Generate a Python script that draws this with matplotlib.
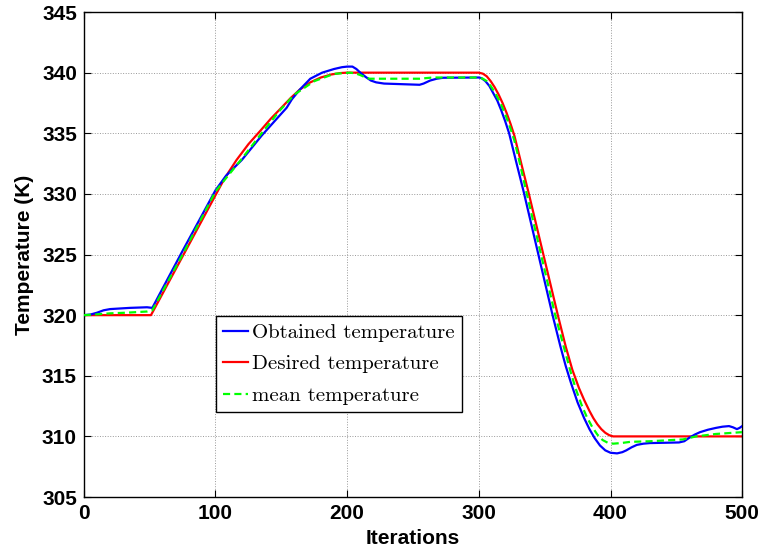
import matplotlib
matplotlib.use("Agg")
import matplotlib.pyplot as plt

# Desired temperature (red)
des_x = [0, 51, 105, 110, 116, 125, 134, 142, 150, 157, 164, 172, 180, 188, 195, 200, 300,
         303, 306, 309, 312, 315, 318, 321, 324, 327, 332, 338, 349, 360, 366, 371, 376, 380, 384, 387, 390, 393, 396, 399, 402, 500]
des_y = [320, 320, 330.9, 331.8, 332.8, 334.1, 335.2, 336.2, 337.1, 337.9, 338.6, 339.2, 339.6, 339.85, 339.97, 340, 340,
         339.92, 339.7, 339.3, 338.8, 338.2, 337.5, 336.7, 335.8, 334.8, 332.6, 330, 325, 320, 317.4, 315.5, 314.0, 313.0, 312.1, 311.5, 311.0, 310.6, 310.3, 310.1, 310, 310]

# Obtained temperature (blue)
obt_x = [0, 5, 10, 15, 20, 35, 48, 52, 75, 100, 108, 120, 135, 149, 154, 158, 164, 172, 181, 190, 196, 200, 204, 207, 210, 214, 218, 222, 228, 255, 258, 263, 268, 273, 300,
         302, 305, 308, 311, 314, 317, 320, 323, 328, 334, 345, 356, 362, 366, 370, 375, 380, 384, 388, 392, 396, 400, 405, 409, 412, 416, 420, 425, 430, 452, 456, 460, 464, 468, 474, 480, 485, 490, 493, 496, 498, 500]
obt_y = [320, 320.05, 320.2, 320.4, 320.5, 320.6, 320.65, 320.6, 325.3, 330.3, 331.5, 332.8, 334.8, 336.5, 337.1, 337.8, 338.6, 339.5, 340, 340.3, 340.45, 340.5, 340.5, 340.3, 340.0, 339.65, 339.35, 339.2, 339.1, 339.0, 339.1, 339.35, 339.5, 339.58, 339.6,
         339.55, 339.3, 338.9, 338.3, 337.7, 336.9, 336.0, 335.0, 332.8, 330.2, 325.1, 320, 317.4, 315.8, 314.4, 312.8, 311.5, 310.6, 309.85, 309.25, 308.85, 308.65, 308.6, 308.7, 308.85, 309.1, 309.3, 309.4, 309.45, 309.5, 309.6, 309.9, 310.15, 310.35, 310.55, 310.7, 310.8, 310.85, 310.75, 310.6, 310.7, 310.85]

# Mean temperature (green dashed)
mean_x = [0, 8, 20, 32, 48, 52, 75, 100, 108, 120, 135, 149, 160, 175, 190, 202, 206, 210, 214, 217, 232, 255, 265, 300,
          303, 306, 309, 312, 315, 318, 321, 324, 327, 331, 336, 347, 358, 365, 370, 374, 378, 382, 386, 390, 394, 398, 402, 408, 415, 430, 455, 465, 480, 500]
mean_y = [320, 320.05, 320.15, 320.2, 320.3, 320.4, 325.0, 330.2, 331.3, 332.9, 335, 336.9, 338.2, 339.3, 339.9, 340, 339.95, 339.8, 339.6, 339.5, 339.5, 339.5, 339.6, 339.6,
          339.5, 339.3, 338.9, 338.4, 337.8, 337.1, 336.3, 335.4, 334.4, 332.6, 330.2, 325.1, 320, 317.2, 315.2, 313.8, 312.6, 311.6, 310.8, 310.15, 309.7, 309.47, 309.4, 309.45, 309.55, 309.6, 309.75, 310.0, 310.2, 310.35]

xticks = [0, 100, 200, 300, 400, 500]
yticks = [305, 310, 315, 320, 325, 330, 335, 340, 345]

fig = plt.figure(figsize=(7.62, 5.52), dpi=100)
ax = fig.add_axes([0.110, 0.0996, 0.864, 0.8786])

lw = 1.6
ax.plot(obt_x, obt_y, color='#0000ff', lw=lw, label='Obtained temperature', zorder=3)
ax.plot(des_x, des_y, color='#ff0000', lw=lw, label='Desired temperature', zorder=2)
ax.plot(mean_x, mean_y, color='#00ff00', lw=lw, ls=(0, (3.2, 1.9)), label='mean temperature', zorder=4)

ax.set_xlim(0, 500)
ax.set_ylim(305, 345)
ax.set_xticks(xticks)
ax.set_yticks(yticks)
ax.grid(True, ls=':', color='#999999', lw=0.7)
ax.tick_params(direction='in', top=True, right=True, length=5, width=0.8, pad=5)
for lab in ax.get_xticklabels() + ax.get_yticklabels():
    lab.set_fontfamily('Liberation Sans')
    lab.set_fontweight('bold')
    lab.set_fontsize(15)
for s in ax.spines.values():
    s.set_linewidth(1.0)

ax.set_xlabel('Iterations', fontfamily='Liberation Sans', fontweight='bold', fontsize=15, labelpad=4)
ax.set_ylabel('Temperature (K)', fontfamily='Liberation Sans', fontweight='bold', fontsize=15, labelpad=6)

leg = ax.legend(loc='upper left', bbox_to_anchor=(0.2006, 0.373), borderaxespad=0,
                prop={'family': 'cmr10', 'size': 15}, fancybox=False, framealpha=1,
                edgecolor='black', handlelength=1.2, handletextpad=0.2, labelspacing=0.62,
                borderpad=0.35)
leg.get_frame().set_linewidth(1.0)

fig.savefig('out.png', dpi=100)
